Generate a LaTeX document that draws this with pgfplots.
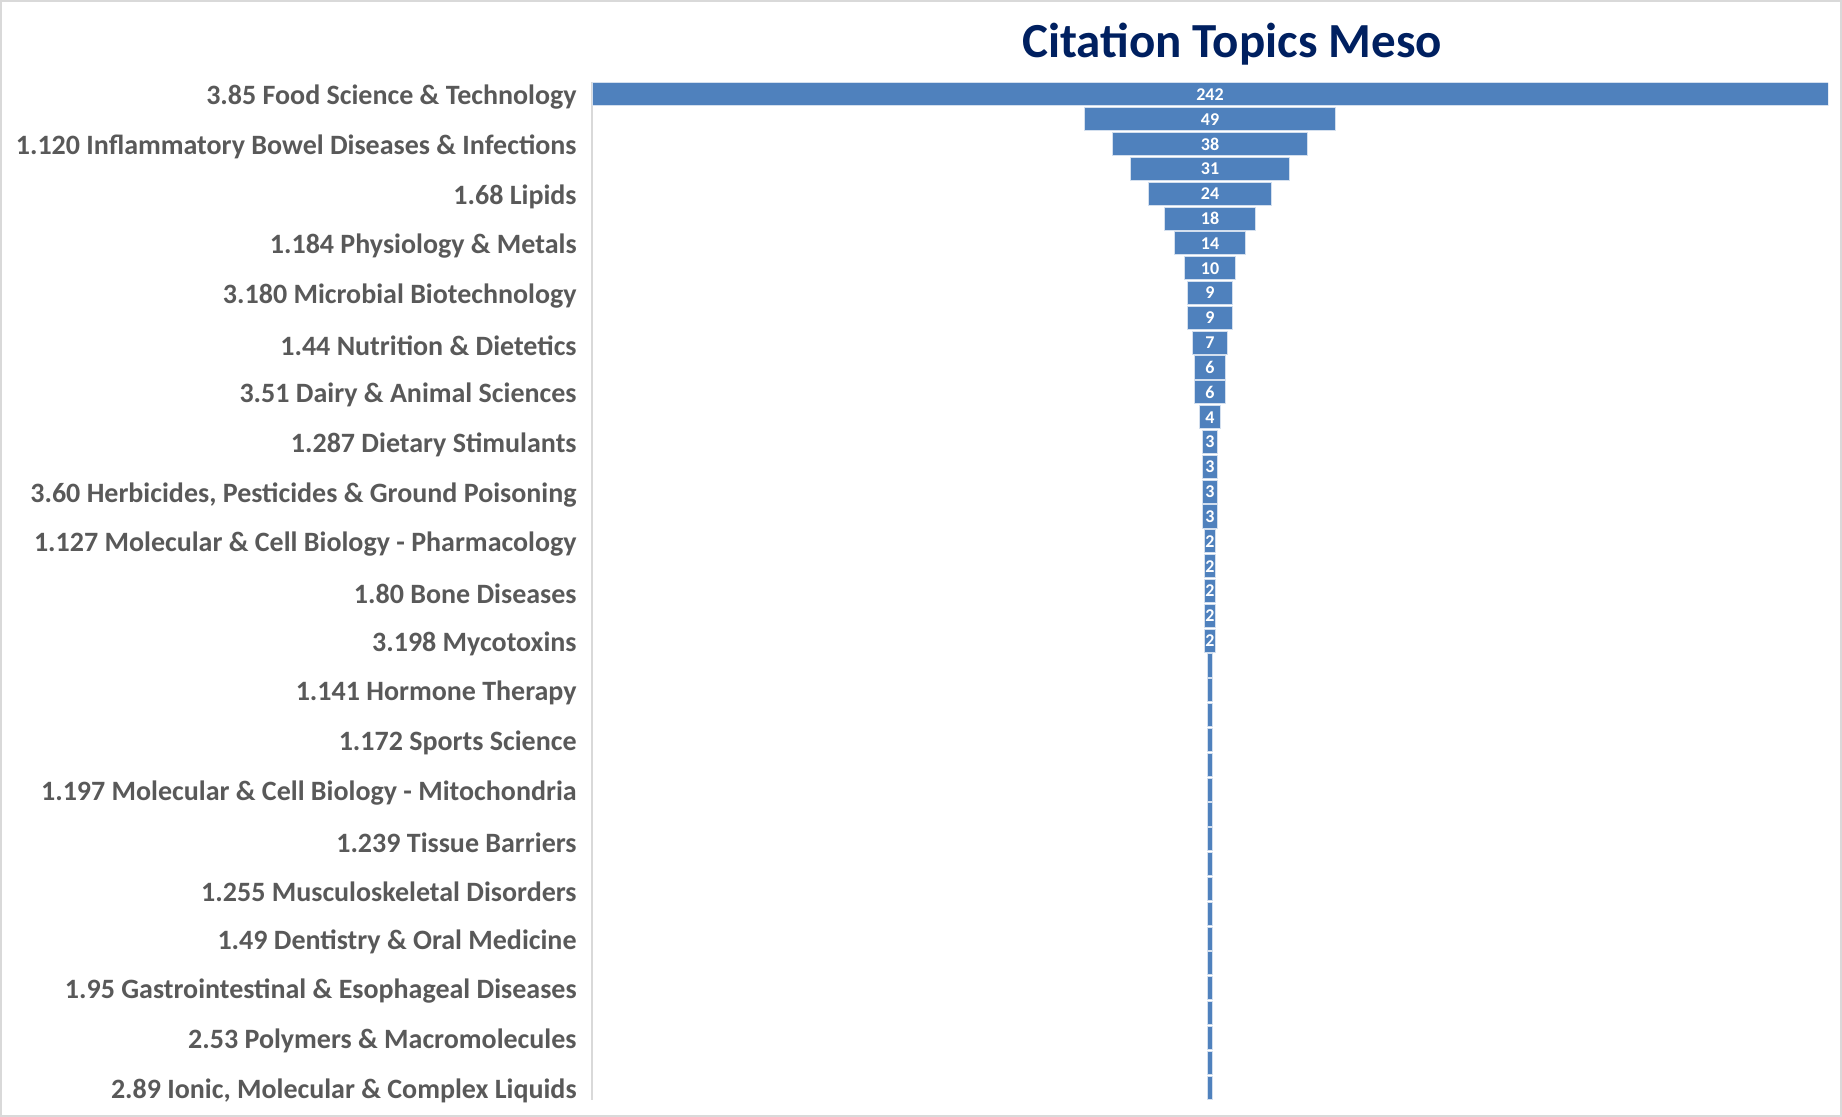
\documentclass[border=0pt]{standalone}
\usepackage{fontspec}
\setmainfont{Carlito}
\usepackage{pgfplots}
\usepackage{pgfplotstable}
\pgfplotsset{compat=1.18}

\definecolor{barblue}{HTML}{4F81BD}
\definecolor{labgray}{HTML}{595959}
\definecolor{titlenavy}{HTML}{002060}
\definecolor{framegray}{HTML}{D9D9D9}

% row, count, label shown in the bar
\pgfplotstableread{
idx v lab
1 242 242
2 49 49
3 38 38
4 31 31
5 24 24
6 18 18
7 14 14
8 10 10
9 9 9
10 9 9
11 7 7
12 6 6
13 6 6
14 4 4
15 3 3
16 3 3
17 3 3
18 3 3
19 2 2
20 2 2
21 2 2
22 2 2
23 2 2
24 1 {}
25 1 {}
26 1 {}
27 1 {}
28 1 {}
29 1 {}
30 1 {}
31 1 {}
32 1 {}
33 1 {}
34 1 {}
35 1 {}
36 1 {}
37 1 {}
38 1 {}
39 1 {}
40 1 {}
41 1 {}
}\topics

\begin{document}
\begin{tikzpicture}
\useasboundingbox (0,0) rectangle (921pt,558.5pt);
\draw[framegray, line width=1pt] (0.5pt,0.5pt) rectangle (920.5pt,558pt);

\pgfplotsset{funnel/.style={
    width=618pt, height=509pt, scale only axis,
    at={(296pt,8.5pt)}, anchor=south west,
    xmin=0, xmax=242, ymin=0.5, ymax=41.5, y dir=reverse}}

\begin{axis}[funnel,
    xbar stacked, bar width=0.93,
    axis x line=none, axis y line*=left,
    y axis line style={draw=framegray, line width=0.8pt},
    ytick={1,3,...,41},
    yticklabels={3.85 Food Science \& Technology,
        1.120 Inflammatory Bowel Diseases \& Infections,
        1.68 Lipids,
        1.184 Physiology \& Metals,
        3.180 Microbial Biotechnology,
        1.44 Nutrition \& Dietetics,
        3.51 Dairy \& Animal Sciences,
        1.287 Dietary Stimulants,
        {3.60 Herbicides, Pesticides \& Ground Poisoning},
        1.127 Molecular \& Cell Biology - Pharmacology,
        1.80 Bone Diseases,
        3.198 Mycotoxins,
        1.141 Hormone Therapy,
        1.172 Sports Science,
        1.197 Molecular \& Cell Biology - Mitochondria,
        1.239 Tissue Barriers,
        1.255 Musculoskeletal Disorders,
        1.49 Dentistry \& Oral Medicine,
        1.95 Gastrointestinal \& Esophageal Diseases,
        2.53 Polymers \& Macromolecules,
        {2.89 Ionic, Molecular \& Complex Liquids}},
    major tick length=0pt,
    yticklabel style={font=\fontsize{14}{16}\selectfont\bfseries, text=labgray,
        inner sep=0pt, xshift=-7.5pt, yshift=-1.5pt},
]
\addplot[draw=none, fill=none, forget plot]
    table[x expr={(242-\thisrow{v})/2}, y=idx] {\topics};
\addplot[fill=barblue, draw=white!75!barblue, line width=0.5pt]
    table[x=v, y=idx] {\topics};
\end{axis}

\begin{axis}[funnel, hide axis]
\addplot[draw=none, mark=none, nodes near coords, point meta=explicit symbolic,
    nodes near coords style={font=\fontsize{9}{10}\selectfont\bfseries,
        text=white, anchor=center, inner sep=0pt}]
    table[x expr=121, y=idx, meta=lab] {\topics};
\end{axis}

\node[anchor=base, font=\fontsize{24.5}{28}\selectfont\bfseries, text=titlenavy]
    at (616pt,529.5pt) {Citation Topics Meso};
\end{tikzpicture}
\end{document}
